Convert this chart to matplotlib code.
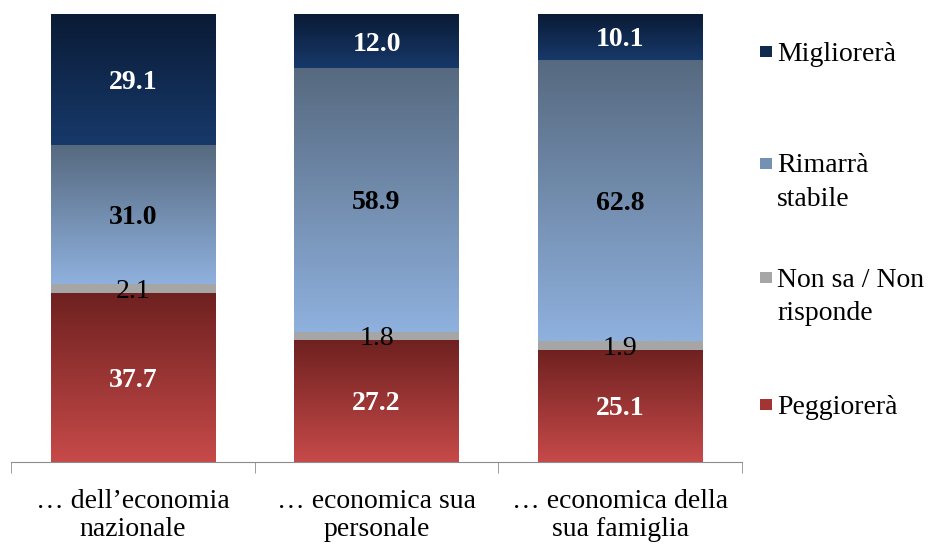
import matplotlib.pyplot as plt
import numpy as np
from matplotlib.colors import LinearSegmentedColormap
from matplotlib.patches import Rectangle

plt.rcParams["font.family"] = "Liberation Serif"

categories = ["… dell’economia\nnazionale", "… economica sua\npersonale", "… economica della\nsua famiglia"]
series = ["Peggiorerà", "Non sa / Non\nrisponde", "Rimarrà\nstabile", "Migliorerà"]
peggiorera = [37.7, 27.2, 25.1]
non_sa = [2.1, 1.8, 1.9]
rimarra = [31.0, 58.9, 62.8]
migliorera = [29.1, 12.0, 10.1]
values = [peggiorera, non_sa, rimarra, migliorera]

# gradient (top, bottom) per series
grads = [("#6e2120", "#c64a49"), ("#a6a6a6", "#a6a6a6"), ("#56697f", "#8fb1de"), ("#0a1b35", "#17396a")]
label_colors = ["white", "black", "black", "white"]
label_weights = ["bold", "normal", "bold", "bold"]
legend_colors = ["#a23434", "#a6a6a6", "#7590b5", "#112a50"]

fig = plt.figure(figsize=(9.32, 5.45), dpi=100)
ax = fig.add_axes([0.0118, 0.152, 0.7844, 0.822])

x = np.arange(len(categories))
bottom = np.zeros(len(categories))
for vals, (top_c, bot_c), lc, lw in zip(values, grads, label_colors, label_weights):
    bars = ax.bar(x, vals, width=0.675, bottom=bottom, color="none", edgecolor="none")
    cmap = LinearSegmentedColormap.from_list("g", [bot_c, top_c])
    grad = np.linspace(0, 1, 256).reshape(-1, 1)
    for b, v in zip(bars, vals):
        ax.imshow(grad, cmap=cmap, origin="lower", aspect="auto",
                  extent=[b.get_x(), b.get_x() + b.get_width(), b.get_y(), b.get_y() + b.get_height()],
                  zorder=1)
        ax.text(b.get_x() + b.get_width() / 2, b.get_y() + b.get_height() / 2 - 0.6, f"{v:.1f}",
                ha="center", va="center", color=lc, fontsize=20, fontweight=lw, zorder=3)
    bottom += np.array(vals)

ax.set_xlim(-0.5, 2.5)
ax.set_ylim(0, 100)
for s in ["top", "right", "left"]:
    ax.spines[s].set_visible(False)
ax.spines["bottom"].set_color("#8c8c8c")
ax.set_yticks([])
ax.set_xticks(x)
ax.set_xticklabels(categories, fontsize=20, linespacing=1.16)
ax.tick_params(axis="x", which="major", length=0, pad=19)
ax.set_xticks([-0.5, 0.5, 1.5, 2.5], minor=True)
ax.tick_params(axis="x", which="minor", length=8, color="#8c8c8c")

# legend, top entry = last series
leg_y = [0.905, 0.70, 0.49, 0.257]
for i, (name, col) in enumerate(zip(series[::-1], legend_colors[::-1])):
    fig.patches.append(Rectangle((0.8155, leg_y[i] - 0.01), 0.0125, 0.021,
                                 transform=fig.transFigure, facecolor=col, edgecolor="none"))
    fig.text(0.834, leg_y[i] + 0.0185, name, fontsize=20, va="top", linespacing=1.45)

fig.savefig("out.png", dpi=100)
